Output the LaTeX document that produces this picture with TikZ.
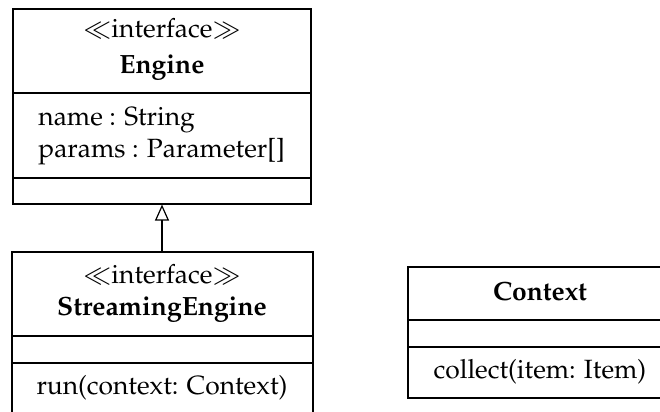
\documentclass[tikz,border=0pt]{standalone}
\usepackage[T1]{fontenc}
\usepackage{mathpazo}
\usetikzlibrary{arrows.meta,fit}
\tikzset{
  umlbox/.style={draw, line width=0.6pt, inner sep=0pt},
  divider/.style={line width=0.6pt},
  txt/.style={inner sep=0pt, font=\fontsize{13.2}{15.8}\selectfont},
  bold/.style={txt, font=\fontsize{13.2}{15.8}\selectfont\bfseries},
  realize/.style={line width=0.6pt, -{Triangle[open, width=7pt, length=8pt]}}
}
\begin{document}
\begin{tikzpicture}[x=0.5pt, y=-0.5pt]
  \useasboundingbox (0,0) rectangle (660,412);

  % interface Engine
  \node[umlbox, fit={(13,9) (311,204)}] (engine) {};
  \draw[divider] (13,93) -- (311,93);
  \draw[divider] (13,178) -- (311,178);
  \node[txt, anchor=base] (engst) at (162,38) {$\ll$interface$\gg$};
  \node[bold, anchor=base] (engname) at (162,73) {Engine};
  \node[txt, anchor=base west] (attr1) at (38,126) {name : String};
  \node[txt, anchor=base west] (attr2) at (38,157) {params : Parameter[]};

  % interface StreamingEngine
  \node[umlbox, fit={(12,252) (313,432)}] (stream) {};
  \draw[divider] (12,336) -- (313,336);
  \draw[divider] (12,363) -- (313,363);
  \node[txt, anchor=base] (strst) at (162,283) {$\ll$interface$\gg$};
  \node[bold, anchor=base] (strname) at (162,315) {StreamingEngine};
  \node[txt, anchor=base] (strop) at (162,394) {run(context: Context)};

  % class Context
  \node[umlbox, fit={(408,267) (672,398)}] (ctx) {};
  \draw[divider] (408,320) -- (672,320);
  \draw[divider] (408,347) -- (672,347);
  \node[bold, anchor=base] (ctxname) at (540,300) {Context};
  \node[txt, anchor=base] (ctxop) at (540,378) {collect(item: Item)};

  % generalization
  \draw[realize] (stream.north -| 162,0) -- (engine.south -| 162,0);
\end{tikzpicture}
\end{document}
